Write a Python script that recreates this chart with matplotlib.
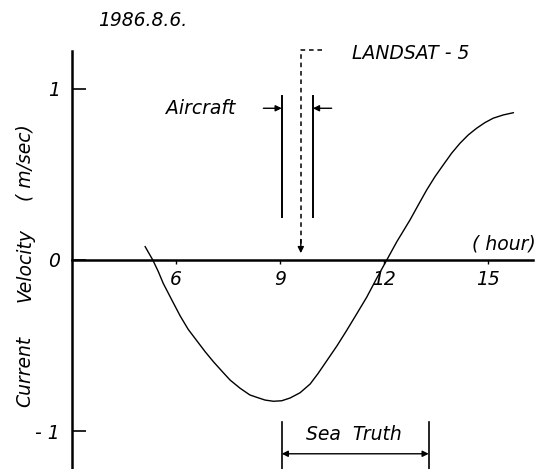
import matplotlib.pyplot as plt

# tidal current observed on 1986.8.6 (hour of day, m/sec)
hours = [5.11, 5.33, 5.49, 5.63, 5.88, 6.12, 6.35, 6.60, 6.84, 7.08, 7.32, 7.56,
         7.85, 8.13, 8.33, 8.57, 8.81, 9.05, 9.29, 9.58, 9.87, 10.10, 10.35,
         10.64, 10.92, 11.21, 11.50, 11.79, 12.08, 12.37, 12.75, 12.99, 13.23,
         13.47, 13.71, 13.95, 14.19, 14.43, 14.67, 14.91, 15.15, 15.44, 15.73]
velocity = [0.078, 0.0, -0.068, -0.136, -0.234, -0.327, -0.405, -0.472, -0.536,
            -0.595, -0.649, -0.702, -0.750, -0.789, -0.803, -0.819, -0.826, -0.823,
            -0.807, -0.776, -0.725, -0.663, -0.589, -0.503, -0.413, -0.316, -0.218,
            -0.107, 0.0, 0.107, 0.234, 0.322, 0.409, 0.487, 0.556, 0.624, 0.682,
            0.731, 0.770, 0.803, 0.829, 0.848, 0.861]

xticks = [6, 9, 12, 15]
yticks = [-1, 0, 1]
ytick_labels = ['- 1', '0', '1']

# observation times (hour)
aircraft = (9.05, 9.95)
landsat = 9.6
sea_truth = (9.05, 13.29)

font = dict(family='DejaVu Sans', style='italic', fontsize=13.5)

fig = plt.figure(figsize=(5.4, 4.69), dpi=100)
ax = fig.add_axes([0, 0, 1, 1])
ax.set_xlim(0.923, 16.50)
ax.set_ylim(-1.222, 1.520)

for side in ['top', 'right']:
    ax.spines[side].set_visible(False)
ax.spines['left'].set_position(('data', 3))
ax.spines['left'].set_bounds(-1.222, 1.222)
ax.spines['bottom'].set_position(('data', 0))
ax.spines['bottom'].set_bounds(3, 16.3)
for side in ['left', 'bottom']:
    ax.spines[side].set_linewidth(1.8)

ax.set_xticks(xticks)
ax.set_xticklabels([str(t) for t in xticks], **font)
ax.tick_params(axis='x', direction='out', length=3, width=1, pad=4)
ax.set_yticks(yticks)
ax.set_yticklabels(ytick_labels, **font)
ax.tick_params(axis='y', direction='in', length=10, width=1.2, pad=9)

# velocity curve
ax.plot(hours, velocity, color='black', lw=1.0, solid_joinstyle='round')

# aircraft observation window
for t in aircraft:
    ax.plot([t, t], [0.253, 0.96], color='black', lw=1.4)
arrow = dict(arrowstyle='-|>', color='black', lw=1.0, mutation_scale=9,
             shrinkA=0, shrinkB=0)
ax.annotate('', xy=(aircraft[0], 0.887), xytext=(8.52, 0.887), arrowprops=arrow)
ax.annotate('', xy=(aircraft[1], 0.887), xytext=(10.49, 0.887), arrowprops=arrow)
ax.text(7.70, 0.887, 'Aircraft', ha='right', va='center', **font)

# LANDSAT-5 overpass
ax.plot([10.2, landsat, landsat], [1.228, 1.228, 0.09], color='black', lw=1.1,
        dashes=(3, 2.5))
ax.annotate('', xy=(landsat, 0.04), xytext=(landsat, 0.12), arrowprops=arrow)
ax.text(11.08, 1.21, 'LANDSAT - 5', ha='left', va='center', **font)

# sea truth period
for t in sea_truth:
    ax.plot([t, t], [-0.946, -1.222], color='black', lw=1.2)
ax.annotate('', xy=(sea_truth[0], -1.133), xytext=(sea_truth[1], -1.133),
            arrowprops=dict(arrow, arrowstyle='<|-|>'))
ax.text(sum(sea_truth) / 2 - 0.05, -1.02, 'Sea  Truth', ha='center', va='center', **font)

ax.text(3.75, 1.40, '1986.8.6.', ha='left', va='center', **font)
ax.text(15.47, 0.094, '( hour)', ha='center', va='center', **font)

# y axis title, spaced out along the axis
ax.text(1.64, -0.65, 'Current', rotation=90, ha='center', va='center', **font)
ax.text(1.64, -0.03, 'Velocity', rotation=90, ha='center', va='center', **font)
ax.text(1.64, 0.57, '( m/sec)', rotation=90, ha='center', va='center', **font)

fig.savefig('out.png', dpi=100)
